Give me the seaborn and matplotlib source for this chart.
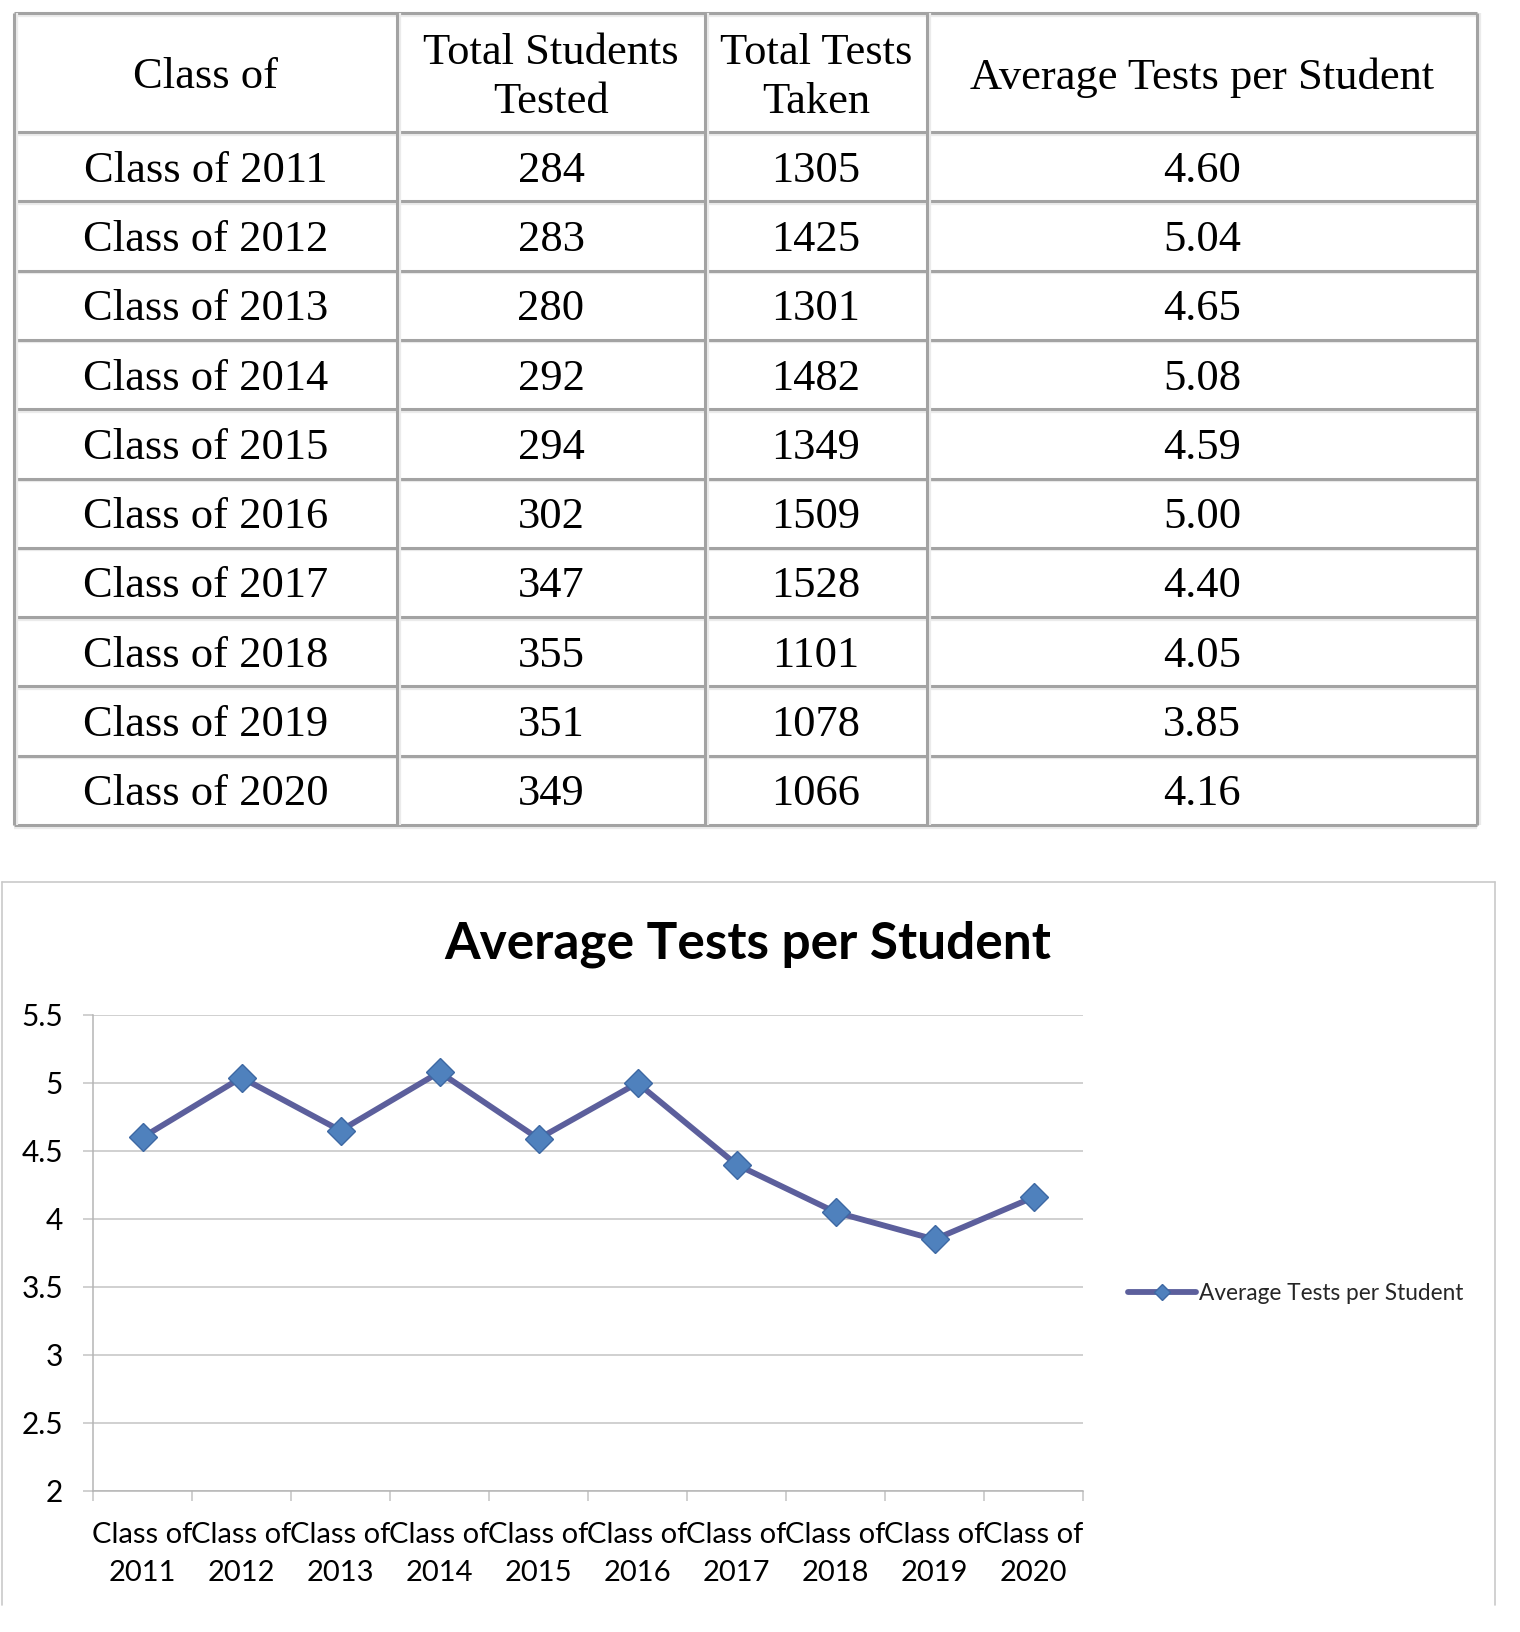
import seaborn as sns
import matplotlib.pyplot as plt
from matplotlib.ticker import FixedLocator

# data
class_years = [2011, 2012, 2013, 2014, 2015, 2016, 2017, 2018, 2019, 2020]
students_tested = [284, 283, 280, 292, 294, 302, 347, 355, 351, 349]
tests_taken = [1305, 1425, 1301, 1482, 1349, 1509, 1528, 1101, 1078, 1066]
avg_tests = [4.60, 5.04, 4.65, 5.08, 4.59, 5.00, 4.40, 4.05, 3.85, 4.16]
headers = ["Class of", "Total Students\nTested", "Total Tests\nTaken", "Average Tests per Student"]
y_ticks = [2, 2.5, 3, 3.5, 4, 4.5, 5, 5.5]
series_name = "Average Tests per Student"

sns.set_theme(style="white")
plt.rcParams['font.family'] = ['Lato', 'DejaVu Sans']

W, H = 1520, 1632
fig = plt.figure(figsize=(W / 100, H / 100), dpi=100)

# pixel-space overlay for the table and the chart frame
tab = fig.add_axes([0, 0, 1, 1], zorder=0)
tab.set_xlim(0, W)
tab.set_ylim(H, 0)
tab.axis('off')

col_x = [14, 397, 705, 927, 1477]
top, head_bot, bot = 13, 132, 825
row_h = (bot - head_bot) / len(class_years)
row_y = [top, head_bot] + [head_bot + row_h * (i + 1) for i in range(len(class_years))]

for y in row_y:
    tab.hlines(y + 2.5, col_x[0], col_x[-1], color='#ebebeb', lw=1.6)
    tab.hlines(y, col_x[0], col_x[-1], color='#a3a3a3', lw=2.2)
for x in col_x:
    tab.vlines(x + 2.5, top, bot, color='#ebebeb', lw=1.6)
    tab.vlines(x, top, bot, color='#a3a3a3', lw=2.2)

serif = dict(family=['Liberation Serif', 'Times New Roman', 'DejaVu Serif'],
             fontsize=32, color='black', ha='center', va='center')
centers = [(col_x[i] + col_x[i + 1]) / 2 for i in range(4)]
for c, h in zip(centers, headers):
    tab.text(c, (top + head_bot) / 2 + 5, h, linespacing=1.32, **serif)

for i, yr in enumerate(class_years):
    cy = head_bot + row_h * (i + 0.5) + 4
    cells = [f"Class of {yr}", str(students_tested[i]), str(tests_taken[i]), f"{avg_tests[i]:.2f}"]
    for c, s in zip(centers, cells):
        tab.text(c, cy, s, **serif)

# chart frame
frame_c = '#c9c9c9'
tab.plot([2, 2], [1605, 882], color=frame_c, lw=1.2)
tab.plot([2, 1495], [882, 882], color=frame_c, lw=1.2)
tab.plot([1495, 1495], [882, 1605], color=frame_c, lw=1.2)

# line chart
ax = fig.add_axes([93 / W, 141 / H, 990 / W, 476 / H], zorder=1)
ax.patch.set_alpha(0)
xlabels = [f"Class of\n{yr}" for yr in class_years]
sns.lineplot(x=xlabels, y=avg_tests, ax=ax, sort=False, color='#5C5F9C', lw=4.2,
             marker='D', markersize=14, markerfacecolor='#4F81BD',
             markeredgecolor='#3D68A3', markeredgewidth=1, label=series_name, legend=False)

ax.set_xlim(-0.5, len(class_years) - 0.5)
ax.set_ylim(2, 5.5)
ax.set_yticks(y_ticks)
ax.set_yticklabels([f"{v:g}" for v in y_ticks])
ax.xaxis.set_minor_locator(FixedLocator([i - 0.5 for i in range(len(class_years) + 1)]))

grid_c = '#c4c4c4'
ax.yaxis.grid(True, color=grid_c, lw=1.1)
ax.set_axisbelow(True)
for s in ['top', 'right']:
    ax.spines[s].set_visible(False)
for s in ['left', 'bottom']:
    ax.spines[s].set_color('#b5b5b5')
    ax.spines[s].set_linewidth(1.1)

ax.tick_params(axis='y', which='major', direction='out', length=7, width=1.1,
               color=grid_c, pad=14.5, labelsize=21.5, labelcolor='black', left=True)
ax.tick_params(axis='x', which='major', length=0, pad=22, labelsize=21, labelcolor='black')
ax.tick_params(axis='x', which='minor', direction='out', length=7, width=1.1,
               color=grid_c, bottom=True)
for lbl in ax.get_xticklabels():
    lbl.set_linespacing(1.6)
ax.set_xlabel('')
ax.set_ylabel('')

fig.text(748 / W, 1 - 944 / H, "Average Tests per Student", ha='center', va='center',
         fontsize=37, fontweight='bold', color='black')

handles, labels = ax.get_legend_handles_labels()
fig.legend(handles, labels, loc='center left', bbox_to_anchor=(1128 / W, 1 - 1293 / H),
           frameon=False, borderpad=0, borderaxespad=0, handlelength=3.0,
           handletextpad=0.12, markerscale=0.55, fontsize=16.3)

fig.savefig('out.png', dpi=100)
